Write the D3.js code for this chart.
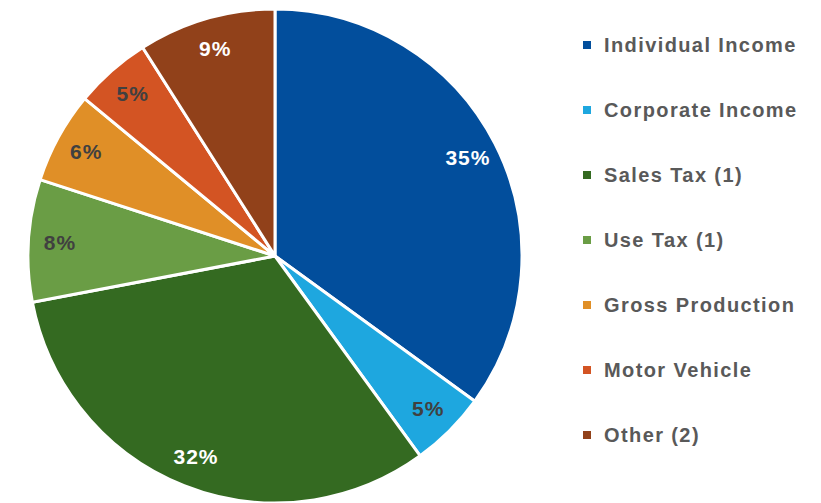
<!DOCTYPE html>
<html>
<head>
<meta charset="utf-8">
<script src="https://cdn.jsdelivr.net/npm/d3@7"></script>
<style>
  body { margin: 0; background: #fff; }
  svg { display: block; font-family: "Liberation Sans", Arial, sans-serif; }
</style>
</head>
<body>
<div id="chart"></div>
<script>
// chart data
const categories = ["Individual Income", "Corporate Income", "Sales Tax (1)", "Use Tax (1)",
  "Gross Production", "Motor Vehicle", "Other (2)"];
const shares = [35, 5, 32, 8, 6, 5, 9];
const colors = ["#024E9C", "#1EA7DF", "#346A21", "#6A9D45", "#E08F27", "#D35423", "#91411A"];
const labelColors = ["#fff", "#404040", "#fff", "#404040", "#404040", "#404040", "#fff"];

const width = 821, height = 503;
const cx = 275, cy = 256, radius = 247;

const svg = d3.select("#chart")
  .append("svg")
  .attr("width", width)
  .attr("height", height);

const data = categories.map((c, i) => ({ name: c, value: shares[i], i: i }));

const pie = d3.pie()
  .value(d => d.value)
  .sort(null);

const arc = d3.arc()
  .innerRadius(0)
  .outerRadius(radius);

const labelArc = d3.arc()
  .innerRadius(216)
  .outerRadius(216);

const g = svg.append("g")
  .attr("transform", "translate(" + cx + "," + cy + ")");

const arcs = pie(data);

g.selectAll("path")
  .data(arcs)
  .enter()
  .append("path")
  .attr("d", arc)
  .attr("fill", d => colors[d.data.i])
  .attr("stroke", "#fff")
  .attr("stroke-width", 3)
  .attr("stroke-linejoin", "round");

g.selectAll("text")
  .data(arcs)
  .enter()
  .append("text")
  .attr("transform", d => "translate(" + labelArc.centroid(d) + ")")
  .attr("text-anchor", "middle")
  .attr("dx", "0.5")
  .attr("dy", "0.35em")
  .attr("fill", d => labelColors[d.data.i])
  .style("font-size", "21px")
  .style("font-weight", "bold")
  .style("letter-spacing", "1px")
  .text(d => d.data.value + "%");

// legend
const legendY = d3.scalePoint()
  .domain(categories)
  .range([45, 435]);

const legend = svg.append("g");

const items = legend.selectAll("g")
  .data(data)
  .enter()
  .append("g")
  .attr("transform", d => "translate(583," + legendY(d.name) + ")");

items.append("rect")
  .attr("x", 0)
  .attr("y", -4)
  .attr("width", 8)
  .attr("height", 8)
  .attr("fill", d => colors[d.i]);

items.append("text")
  .attr("x", 21)
  .attr("dy", "0.35em")
  .attr("fill", "#595959")
  .style("font-size", "20px")
  .style("font-weight", "bold")
  .style("letter-spacing", "1.4px")
  .text(d => d.name);
</script>
</body>
</html>
